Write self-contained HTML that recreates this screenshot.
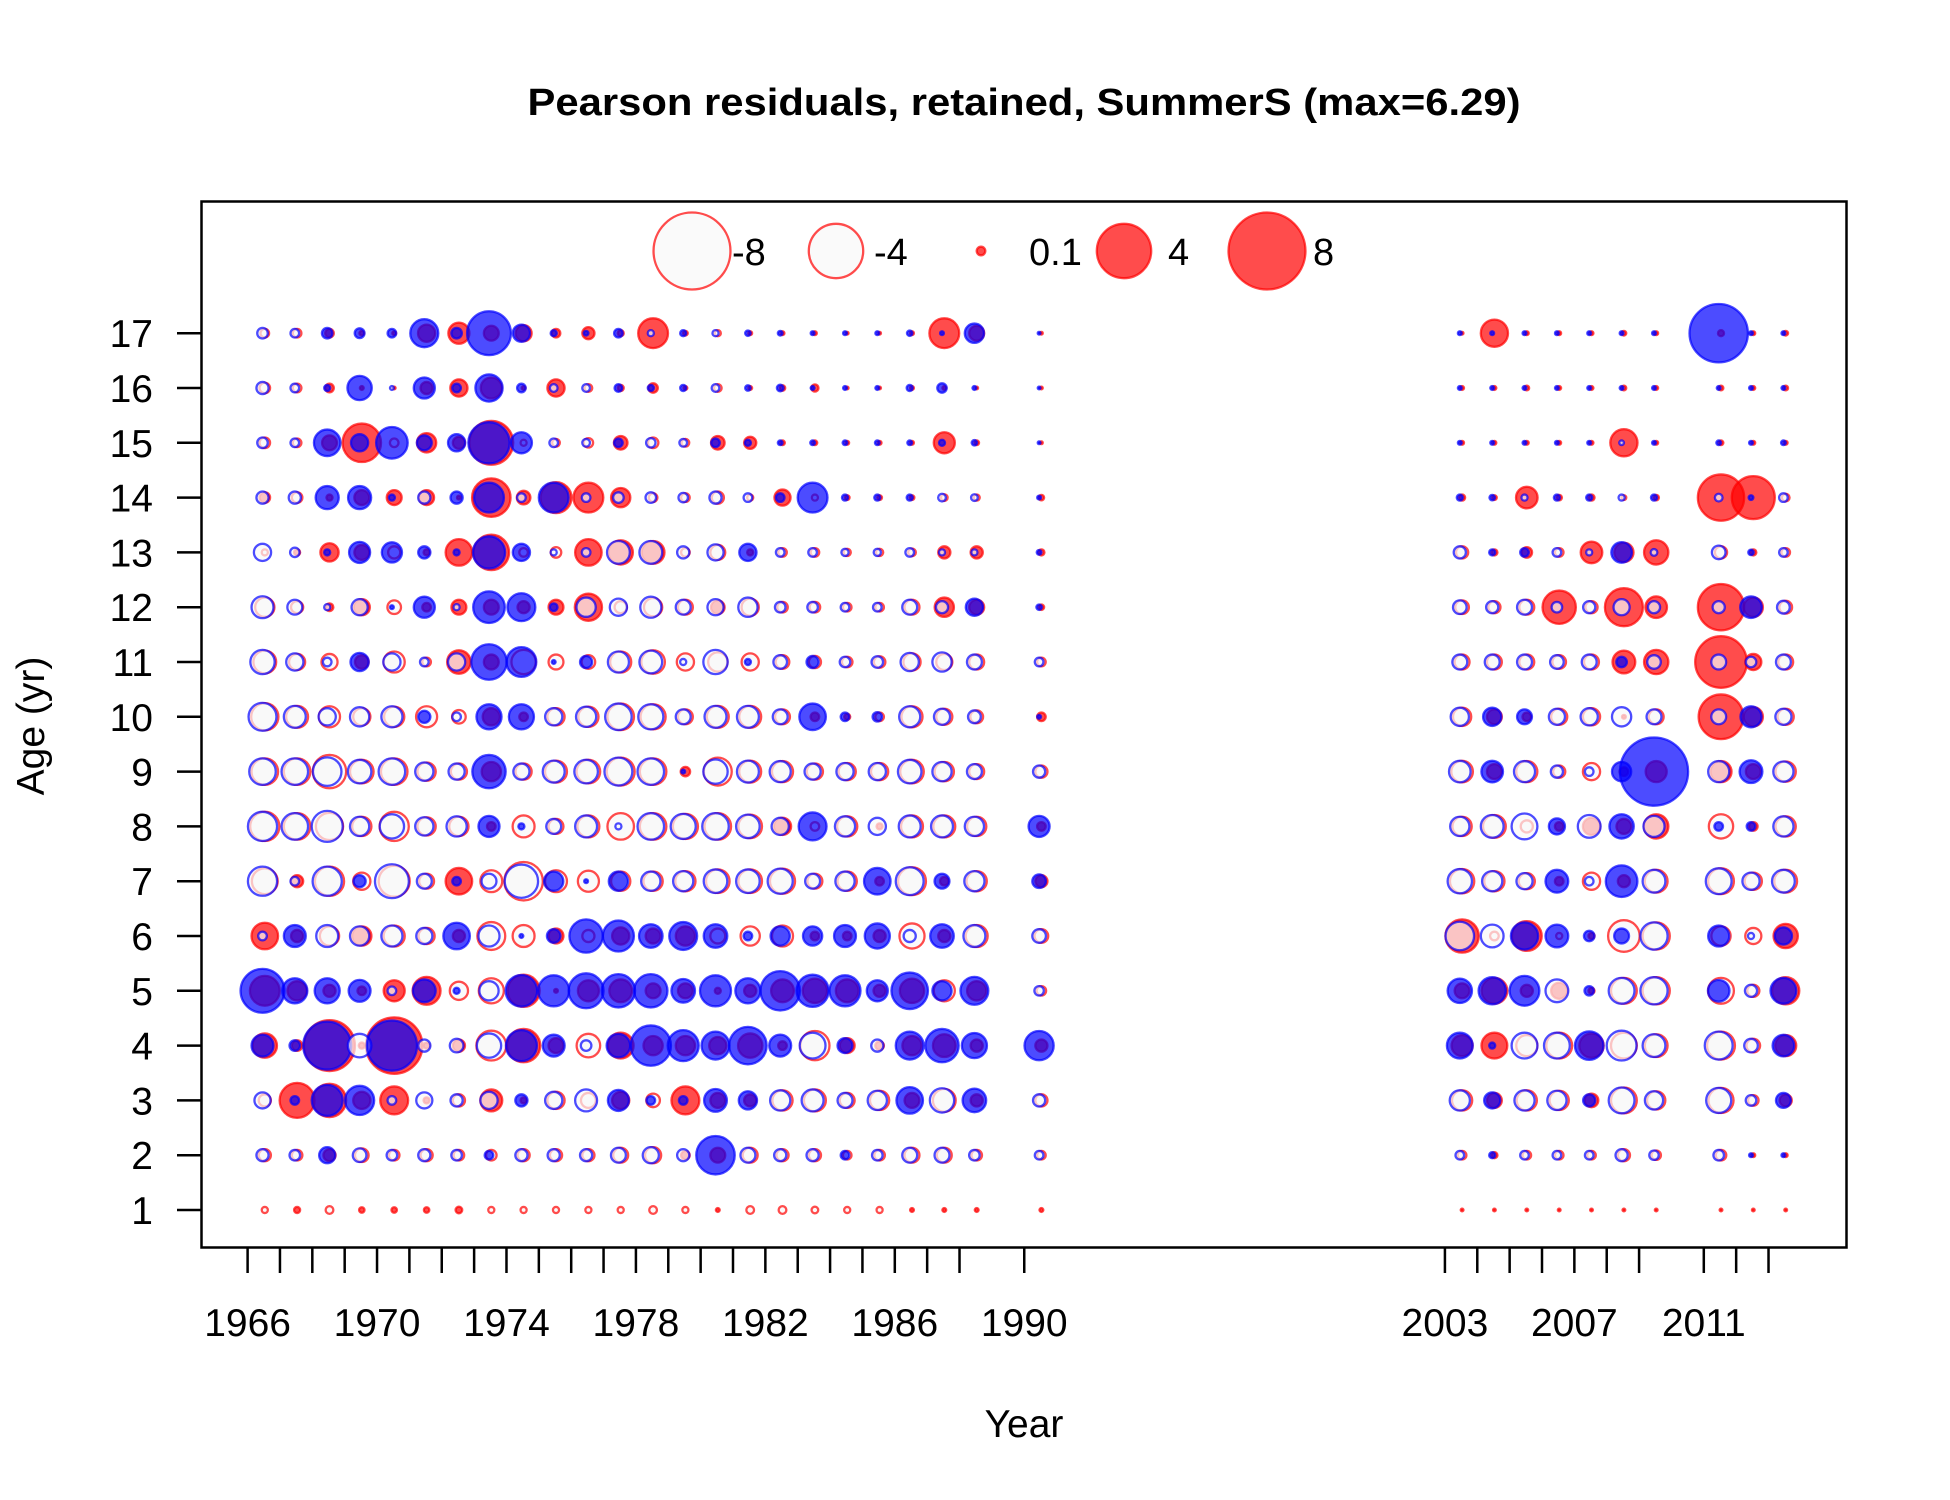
<!DOCTYPE html>
<html><head><meta charset="utf-8">
<style>
html,body{margin:0;padding:0;background:#fff;}
svg{display:block;font-family:"Liberation Sans",Arial,sans-serif;}
</style></head>
<body>
<svg id="chart" width="1950" height="1500" viewBox="0 0 1950 1500" xmlns="http://www.w3.org/2000/svg">
<rect x="0" y="0" width="1950" height="1500" fill="#fff"/>
<text x="1024" y="115" text-anchor="middle" font-size="38" font-weight="bold" textLength="993" lengthAdjust="spacingAndGlyphs">Pearson residuals, retained, SummerS (max=6.29)</text>
<g id="bubbles"></g>
<rect x="201.5" y="201.5" width="1645" height="1046" fill="none" stroke="#000" stroke-width="2.5"/>
<g id="xaxis"></g>
<g id="yaxis"></g>
<text x="1024" y="1437" text-anchor="middle" font-size="39">Year</text>
<text transform="translate(44,726) rotate(-90)" text-anchor="middle" font-size="39">Age (yr)</text>
<g id="legend"></g>
</svg>
<script>
const years = [1966,1967,1968,1969,1970,1971,1972,1973,1974,1975,1976,1977,1978,1979,1980,1981,1982,1983,1984,1985,1986,1987,1988,1990,2003,2004,2005,2006,2007,2008,2009,2011,2012,2013];
const ages = [17,16,15,14,13,12,11,10,9,8,7,6,5,4,3,2,1];
const xTickYears = [1966,1967,1968,1969,1970,1971,1972,1973,1974,1975,1976,1977,1978,1979,1980,1981,1982,1983,1984,1985,1986,1987,1988,1990,2003,2004,2005,2006,2007,2008,2009,2011,2012,2013];
const xTickLabels = [1966,1970,1974,1978,1982,1986,1990,2003,2007,2011];
const legendValues = [-8,-4,0.1,4,8];
const legendLabels = ["-8","-4","0.1","4","8"];
// blue series (rows follow ages array)
const blueVals = [
[-0.15,-0.1,0.15,0.13,0.1,1.06,0.15,2.6,0.4,0.05,0.03,0.1,-0.05,0.05,-0.05,0.04,0.03,0.02,0.02,0.02,0.04,0.02,0.5,0.01,0.02,0.02,0.02,0.02,0.02,0.02,0.02,4.6,0.02,0.02],
[-0.2,-0.1,0.05,0.8,-0.02,0.6,0.1,1.0,0.1,-0.08,-0.08,0.08,0.05,0.05,-0.08,0.04,0.06,0.02,0.02,0.02,0.05,0.12,0.02,0.01,0.02,0.02,0.02,0.02,0.02,0.02,0.02,0.02,0.02,0.02],
[-0.15,-0.1,0.95,0.4,1.35,0.3,0.4,2.3,0.6,-0.1,-0.08,0.1,-0.12,-0.08,0.1,0.05,0.03,0.03,0.03,0.03,0.03,0.05,0.04,0.01,0.02,0.02,0.02,0.02,0.02,-0.03,0.02,0.03,0.02,0.03],
[-0.2,-0.2,0.72,0.72,0.05,-0.2,0.2,1.2,-0.1,1.2,-0.1,-0.15,-0.15,-0.12,-0.2,-0.1,0.1,1.2,0.05,0.05,0.05,-0.08,-0.06,0.02,0.05,0.04,-0.05,0.05,0.05,-0.05,0.05,-0.08,0.03,-0.1],
[-0.4,-0.12,0.05,0.6,0.55,0.2,0.05,1.4,0.4,-0.05,-0.1,-0.7,-0.7,-0.2,-0.35,0.4,-0.1,-0.1,-0.07,-0.07,-0.1,-0.05,-0.05,0.03,-0.2,0.05,0.1,-0.1,-0.05,0.57,-0.06,-0.25,0.04,-0.1],
[-0.65,-0.3,-0.05,-0.35,0.02,0.6,-0.05,1.35,1.05,0.08,-0.5,-0.4,-0.6,-0.3,-0.35,-0.5,-0.15,-0.15,-0.1,-0.1,-0.3,-0.2,0.4,0.04,-0.25,-0.2,-0.3,-0.15,-0.2,-0.35,-0.2,-0.2,0.63,-0.22],
[-0.8,-0.4,-0.1,0.45,-0.4,-0.1,-0.4,1.7,1.2,0.02,0.2,-0.6,-0.7,-0.05,-0.8,0.05,-0.25,0.2,-0.15,-0.18,-0.45,-0.5,-0.3,-0.1,-0.3,-0.3,-0.3,-0.25,-0.3,0.15,-0.25,-0.3,-0.15,-0.3],
[-1.05,-0.65,-0.4,-0.5,-0.6,0.2,-0.1,0.85,0.85,-0.4,-0.55,-0.95,-0.85,-0.3,-0.65,-0.65,-0.3,0.95,0.1,0.12,-0.6,-0.35,-0.22,0.02,-0.45,0.45,0.3,-0.35,-0.4,-0.5,-0.3,-0.3,0.6,-0.35],
[-0.95,-0.95,-1.1,-0.75,-0.95,-0.45,-0.35,1.5,-0.35,-0.65,-0.75,-1.05,-0.95,0.02,-0.8,-0.65,-0.6,-0.35,-0.4,-0.4,-0.75,-0.5,-0.3,-0.2,-0.63,0.63,-0.6,-0.2,-0.1,0.5,6.29,-0.6,0.7,-0.55],
[-1.15,-0.95,-1.3,-0.5,-0.8,-0.45,-0.55,0.6,0.05,-0.3,-0.65,-0.05,-0.95,-0.85,-0.95,-0.75,-0.4,1.05,-0.55,-0.4,-0.65,-0.65,-0.5,0.6,-0.5,-0.7,-0.9,0.35,-0.7,0.8,-0.6,0.1,0.1,-0.55],
[-1.15,-0.1,-1.15,0.2,-1.55,-0.3,0.1,-0.3,-1.5,0.5,0.02,0.5,-0.5,-0.55,-0.75,-0.75,-0.85,-0.3,-0.5,0.95,-1.05,0.3,-0.55,0.25,-0.8,-0.55,-0.35,0.7,-0.1,1.35,-0.7,-0.9,-0.4,-0.7],
[-0.1,0.65,-0.65,-0.5,-0.6,-0.35,0.95,-0.6,0.02,0.25,1.5,1.3,0.75,1.05,0.75,0.1,0.5,0.5,0.65,0.85,-0.2,0.75,-0.65,-0.25,-1.1,-0.7,1.0,0.7,0.15,0.3,-1.0,0.6,-0.05,0.4],
[2.6,0.85,0.85,0.65,-0.1,0.7,0.05,-0.5,1.35,1.3,1.65,1.5,1.5,0.75,1.3,0.85,2.1,1.4,1.3,0.6,1.8,0.5,1.05,-0.12,0.8,1.0,1.2,-0.7,0.12,-0.9,-1.0,0.63,-0.2,0.9],
[0.65,0.15,3.1,-0.75,3.4,-0.2,-0.25,-0.8,1.3,0.65,-0.15,0.75,2.2,1.3,1.05,1.9,0.65,-0.9,0.3,-0.2,1.05,1.5,0.85,1.15,0.9,0.05,-0.9,-0.9,1.1,-1.2,-0.7,-1.05,-0.25,0.63],
[-0.35,0.1,1.3,1.15,-0.1,-0.35,-0.2,-0.4,0.2,-0.4,-0.65,0.6,0.1,0.1,0.7,0.45,-0.55,-0.65,-0.3,-0.5,0.95,-0.8,0.75,-0.2,-0.55,0.35,-0.55,-0.5,0.2,-0.9,-0.45,-0.85,-0.15,0.3],
[-0.2,-0.15,0.35,-0.25,-0.15,-0.2,-0.15,0.1,-0.2,-0.2,-0.2,-0.3,-0.35,-0.2,2.0,-0.3,-0.2,-0.2,0.1,-0.15,-0.3,-0.3,-0.15,-0.1,-0.1,0.05,-0.1,-0.1,-0.1,-0.2,-0.12,-0.15,0.02,0.02],
[0,0,0,0,0,0,0,0,0,0,0,0,0,0,0,0,0,0,0,0,0,0,0,0,0,0,0,0,0,0,0,0,0,0]
];
// red series (rows follow ages array)
const redVals = [
[-0.1,-0.1,0.1,0.03,0.02,0.4,0.6,0.3,0.35,0.1,0.2,0.05,1.2,0.03,-0.05,0.02,0.02,0.02,0.01,0.01,0.02,1.2,0.3,0.01,0.01,1.0,0.02,0.02,0.02,0.03,0.02,0.05,0.02,0.03],
[-0.15,-0.1,0.1,0.02,0.01,0.2,0.4,0.6,0.02,0.4,-0.08,0.05,0.12,0.02,-0.08,0.02,0.04,0.07,0.01,0.01,0.02,0.02,0.01,0.01,0.02,0.02,0.03,0.02,0.02,0.03,0.02,0.03,0.02,0.03],
[-0.15,-0.1,0.3,2.0,-0.1,0.5,0.2,2.6,-0.05,-0.08,-0.12,0.25,-0.15,-0.08,0.25,0.2,0.03,0.03,0.02,0.02,0.02,0.6,0.03,0.01,0.02,0.02,0.02,0.02,0.02,1.0,0.02,0.03,0.02,0.02],
[0.15,-0.15,0.05,0.3,0.3,0.3,0.02,2.0,0.25,1.3,1.2,0.5,-0.1,-0.1,-0.2,-0.05,0.35,-0.05,0.03,0.03,0.03,-0.06,-0.05,0.04,0.05,0.03,0.63,0.04,0.05,-0.03,0.04,2.9,2.5,-0.08],
[-0.05,0.05,0.45,0.3,-0.2,0.05,0.95,1.7,-0.1,-0.15,0.95,0.8,0.7,-0.1,-0.3,0.05,-0.1,-0.1,-0.07,-0.07,-0.08,0.2,0.2,0.05,-0.2,0.05,0.15,-0.1,0.63,0.5,0.8,-0.2,0.05,-0.1],
[-0.5,-0.2,0.08,0.35,-0.25,0.1,0.3,0.3,0.2,0.3,1.0,-0.2,-0.45,-0.3,0.25,-0.4,-0.15,-0.15,-0.1,-0.1,-0.3,0.5,0.3,0.04,-0.25,-0.2,-0.3,1.5,-0.2,1.95,0.63,2.9,0.5,-0.22],
[-0.7,-0.35,-0.35,0.25,-0.6,-0.1,0.75,0.3,-0.8,-0.3,-0.25,-0.6,-0.75,-0.4,-0.5,-0.4,-0.25,-0.2,-0.15,-0.18,-0.4,-0.35,-0.3,-0.1,-0.3,-0.3,-0.3,-0.25,-0.3,0.7,0.8,3.6,0.35,-0.3],
[-1.0,-0.65,-0.6,-0.4,-0.55,-0.6,-0.25,0.4,0.1,-0.4,-0.55,-0.95,-0.85,-0.3,-0.65,-0.65,-0.3,0.1,0.05,-0.1,-0.6,-0.35,-0.22,0.1,-0.45,0.3,0.1,-0.35,-0.4,0.02,-0.3,2.7,0.5,-0.35],
[-0.95,-0.95,-1.5,-0.75,-0.95,-0.45,-0.35,0.5,-0.35,-0.65,-0.75,-1.05,-0.95,0.12,-1.05,-0.65,-0.6,-0.35,-0.4,-0.4,-0.75,-0.5,-0.3,-0.2,-0.63,0.3,-0.6,-0.2,-0.4,0.1,0.6,0.6,0.3,-0.55],
[-1.15,-0.95,-1.0,-0.5,-1.15,-0.45,-0.5,0.1,-0.65,-0.3,-0.65,-0.95,-0.95,-0.85,-0.95,-0.75,0.4,-0.1,-0.55,0.05,-0.65,-0.65,-0.5,0.1,-0.5,-0.7,-0.2,0.1,0.4,0.3,0.8,-0.8,0.1,-0.55],
[-0.9,0.2,-1.15,-0.4,-1.3,-0.3,0.95,-0.65,-2.0,-0.65,-0.6,-0.5,-0.5,-0.55,-0.75,-0.75,-0.85,-0.3,-0.5,0.1,-1.05,0.1,-0.55,0.2,-0.8,-0.55,-0.35,0.1,-0.4,0.2,-0.7,-0.9,-0.4,-0.7],
[0.95,0.2,-0.5,0.5,-0.6,-0.35,0.2,-1.05,-0.65,0.3,-0.2,0.4,0.3,0.5,-0.3,-0.5,-0.6,0.1,0.1,0.2,-0.85,0.2,-0.65,-0.25,1.5,-0.1,1.2,-0.05,0.05,-1.35,-1.0,-0.5,-0.35,0.8],
[1.2,0.5,0.2,0.1,0.6,1.05,-0.45,-0.85,1.4,0.02,0.6,0.7,0.3,0.3,0.05,0.2,0.7,0.8,0.7,0.2,0.8,-0.6,0.5,-0.12,0.3,0.9,0.2,0.35,0.05,-0.9,-1.0,-0.9,-0.2,1.0],
[0.8,0.15,3.5,0.05,4.3,0.05,0.2,-1.2,1.5,0.3,-0.75,0.9,0.5,0.5,0.4,0.8,0.1,-1.15,0.3,0.1,0.5,0.7,0.2,0.2,0.6,0.9,-0.6,-0.9,0.8,-0.9,-0.7,-1.05,-0.25,0.6],
[-0.2,1.65,1.5,0.4,1.05,0.05,-0.2,0.65,0.05,-0.4,-0.3,0.4,-0.25,1.05,0.3,0.2,-0.55,-0.65,-0.3,-0.5,0.3,-0.7,0.2,-0.2,-0.55,0.3,-0.55,-0.5,0.25,-0.9,-0.45,-0.85,-0.15,0.2],
[-0.2,-0.15,0.2,-0.25,-0.15,-0.2,-0.15,-0.15,-0.2,-0.2,-0.2,-0.3,-0.35,0.1,0.3,-0.3,-0.2,-0.2,-0.1,-0.15,-0.3,-0.3,-0.15,-0.1,-0.1,0.05,-0.1,-0.1,-0.1,-0.2,-0.12,-0.15,0.02,0.02],
[-0.05,0.05,-0.08,0.04,0.04,0.04,0.06,-0.05,-0.05,-0.05,-0.05,-0.05,-0.08,-0.05,0.02,-0.08,-0.08,-0.06,-0.05,-0.05,0.02,0.02,0.02,0.02,0.01,0.01,0.01,0.01,0.01,0.01,0.01,0.01,0.01,0.01]
];

const NS = "http://www.w3.org/2000/svg";
function xScale(yr){ return 247.6 + (yr - 1966) * 32.36; }
function yScale(age){ return 1210 - (age - 1) * 54.8; }
function rScale(v){ return 13.6 * Math.sqrt(Math.abs(v)); }
const COLORS = { red: "rgba(255,0,0,0.7)", blue: "rgba(0,0,255,0.7)" };

function drawBubble(g, cx, cy, v, col) {
  const c = document.createElementNS(NS, "circle");
  c.setAttribute("cx", cx.toFixed(1));
  c.setAttribute("cy", cy.toFixed(1));
  c.setAttribute("r", Math.max(rScale(v), 1.2).toFixed(2));
  c.setAttribute("stroke", COLORS[col]);
  c.setAttribute("stroke-width", "2.3");
  c.setAttribute("fill", v > 0 ? COLORS[col] : "rgba(248,248,248,0.7)");
  g.appendChild(c);
  return c;
}

const bg = document.getElementById("bubbles");
function drawSeries(vals, col, off) {
  vals.forEach((row, i) => {
    row.forEach((v, j) => {
      if (v === 0 || years[j] === undefined) return;
      const c = drawBubble(bg, xScale(years[j] + off), yScale(ages[i]), v, col);
      
      
    });
  });
}
drawSeries(redVals, "red", 0.53);
drawSeries(blueVals, "blue", 0.46);

// x axis
const xg = document.getElementById("xaxis");
xTickYears.forEach(yr => {
  const l = document.createElementNS(NS, "line");
  l.setAttribute("x1", xScale(yr)); l.setAttribute("x2", xScale(yr));
  l.setAttribute("y1", 1248); l.setAttribute("y2", 1273);
  l.setAttribute("stroke", "#000"); l.setAttribute("stroke-width", "2.5");
  
  
  xg.appendChild(l);
});
xTickLabels.forEach(yr => {
  const t = document.createElementNS(NS, "text");
  t.setAttribute("x", xScale(yr)); t.setAttribute("y", 1336);
  t.setAttribute("text-anchor", "middle"); t.setAttribute("font-size", "39");
  t.textContent = yr;
  
  
  xg.appendChild(t);
});
// y axis
const yg = document.getElementById("yaxis");
ages.forEach(a => {
  const l = document.createElementNS(NS, "line");
  l.setAttribute("x1", 177); l.setAttribute("x2", 201);
  l.setAttribute("y1", yScale(a)); l.setAttribute("y2", yScale(a));
  l.setAttribute("stroke", "#000"); l.setAttribute("stroke-width", "2.5");
  
  
  yg.appendChild(l);
  const t = document.createElementNS(NS, "text");
  t.setAttribute("x", 153); t.setAttribute("y", yScale(a) + 14);
  t.setAttribute("text-anchor", "end"); t.setAttribute("font-size", "39");
  t.textContent = a;
  
  
  yg.appendChild(t);
});
// legend
const lg = document.getElementById("legend");
const legendX = [692, 836, 981, 1124, 1267];
const legendTextX = [732, 874, 1029, 1168, 1313];
legendValues.forEach((v, i) => {
  const c = drawBubble(lg, legendX[i], 251, v, "red");
  
  
  const t = document.createElementNS(NS, "text");
  t.setAttribute("x", legendTextX[i]); t.setAttribute("y", 265);
  t.setAttribute("font-size", "38");
  t.textContent = legendLabels[i];
  
  
  lg.appendChild(t);
});
</script>
</body></html>
